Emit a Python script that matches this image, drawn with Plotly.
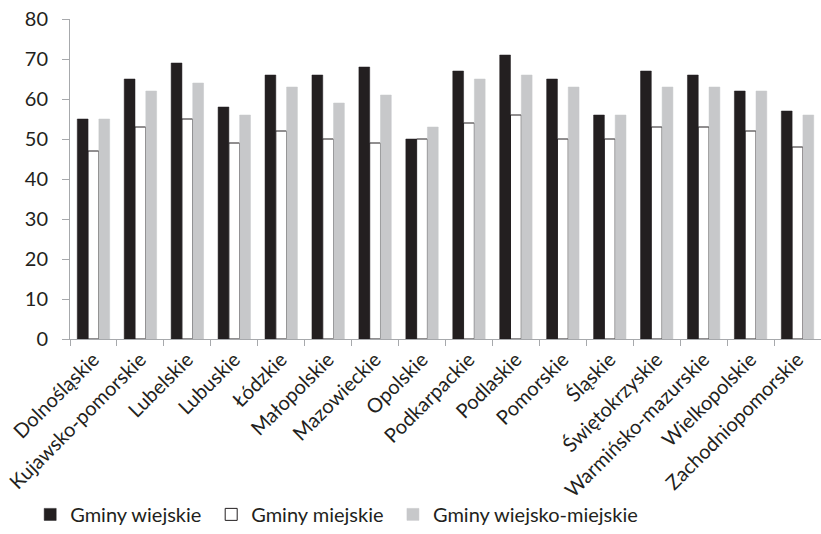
import plotly.graph_objects as go

regions = [
    "Dolnośląskie", "Kujawsko-pomorskie", "Lubelskie", "Lubuskie", "Łódzkie",
    "Małopolskie", "Mazowieckie", "Opolskie", "Podkarpackie", "Podlaskie",
    "Pomorskie", "Śląskie", "Świętokrzyskie", "Warmińsko-mazurskie",
    "Wielkopolskie", "Zachodniopomorskie",
]
gminy_wiejskie = [55, 65, 69, 58, 66, 66, 68, 50, 67, 71, 65, 56, 67, 66, 62, 57]
gminy_miejskie = [47, 53, 55, 49, 52, 50, 49, 50, 54, 56, 50, 50, 53, 53, 52, 48]
gminy_wiejsko_miejskie = [55, 62, 64, 56, 63, 59, 61, 53, 65, 66, 63, 56, 63, 63, 62, 56]

font = dict(family="Lato, Open Sans, sans-serif", size=20, color="#231f20")

fig = go.Figure()
fig.add_trace(go.Bar(x=regions, y=gminy_wiejskie, name="Gminy wiejskie", legend="legend",
                     marker=dict(color="#231f20", line=dict(color="#231f20", width=0.5))))
fig.add_trace(go.Bar(x=regions, y=gminy_miejskie, name="Gminy miejskie", legend="legend2",
                     marker=dict(color="white", line=dict(color="#231f20", width=1))))
fig.add_trace(go.Bar(x=regions, y=gminy_wiejsko_miejskie, name="Gminy wiejsko-miejskie",
                     legend="legend3",
                     marker=dict(color="#c7c8ca", line=dict(color="#c7c8ca", width=0.5))))

leg = dict(orientation="h", xanchor="left", y=-0.609, yanchor="bottom",
           font=dict(size=20), itemwidth=30, bgcolor="rgba(0,0,0,0)")

fig.update_layout(
    width=821, height=534,
    margin=dict(l=70, r=0, t=19, b=195),
    paper_bgcolor="white", plot_bgcolor="white",
    font=font,
    barmode="group", bargap=0.31, bargroupgap=0,
    showlegend=True,
    legend=dict(leg, x=-0.053),
    legend2=dict(leg, x=0.188),
    legend3=dict(leg, x=0.430),
)
fig.update_xaxes(
    showline=True, linecolor="#a7a9ac", linewidth=1,
    ticks="outside", tickson="boundaries", ticklen=6, tickcolor="#a7a9ac",
    tickangle=-45, showgrid=False,
)
fig.update_yaxes(
    range=[0, 80], dtick=10, showline=True, linecolor="#a7a9ac", linewidth=1,
    ticks="outside", ticklen=7, tickcolor="#a7a9ac", showgrid=False, zeroline=False,
    ticklabelstandoff=10,
)

# page has a default body margin; drop it so the figure fills the window
fig.write_html("out.html", config={"displayModeBar": False},
               post_script="document.body.style.margin='0';")
